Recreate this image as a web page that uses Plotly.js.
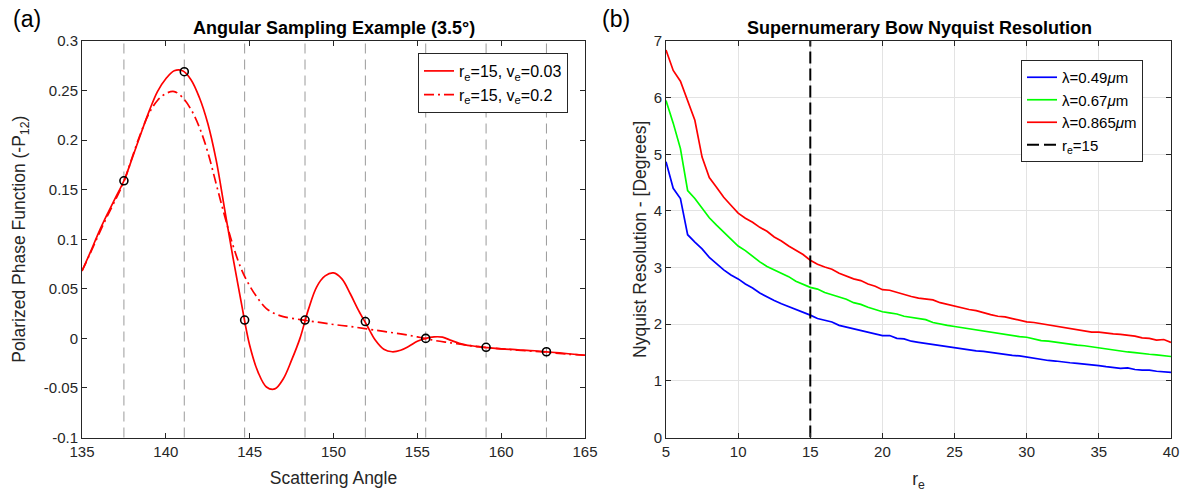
<!DOCTYPE html>
<html>
<head>
<meta charset="utf-8">
<script src="https://cdn.plot.ly/plotly-3.0.1.min.js"></script>
<style>html,body{margin:0;padding:0;background:#fff;}#chart{width:1185px;height:499px;}</style>
</head>
<body>
<div id="chart"></div>
<script>
// ---------- Panel (a): Angular sampling example ----------
const angSolid = [135,135.5,136,136.5,137,137.5,138,138.5,139,139.5,140,140.5,141,141.5,142,142.5,143,143.5,144,144.5,145,145.5,146,146.5,147,147.5,148,148.5,149,149.5,150,150.5,151,151.5,152,152.5,153,153.5,154,154.5,155,155.5,156,156.5,157,157.5,158,158.5,159,160,161,162,163,164,165];
const valSolid = [0.068,0.087,0.107,0.125,0.142,0.159,0.182,0.206,0.229,0.249,0.262,0.270,0.270,0.261,0.243,0.217,0.180,0.131,0.082,0.036,-0.007,-0.034,-0.049,-0.051,-0.041,-0.022,0.000,0.029,0.052,0.063,0.066,0.060,0.045,0.028,0.013,-0.002,-0.011,-0.0135,-0.012,-0.008,-0.003,0.000,0.0015,0.0012,-0.002,-0.005,-0.007,-0.008,-0.009,-0.0105,-0.0115,-0.0125,-0.014,-0.0155,-0.017];
const angDashDot = [135,135.5,136,136.5,137,137.5,138,138.5,139,139.5,140,140.5,141,141.5,142,142.5,143,143.5,144,144.5,145,145.5,146,146.5,147,148,149,150,151,152,153,154,155,156,157,158,159,160,161,162,163,164,165];
const valDashDot = [0.068,0.086,0.105,0.123,0.140,0.158,0.183,0.207,0.227,0.240,0.247,0.249,0.243,0.231,0.213,0.188,0.156,0.124,0.094,0.070,0.053,0.040,0.030,0.025,0.022,0.019,0.0165,0.014,0.012,0.0095,0.007,0.0045,0.0015,-0.002,-0.0045,-0.007,-0.009,-0.0105,-0.012,-0.013,-0.0145,-0.016,-0.017];
const sampleAngles = [137.5,141.1,144.7,148.3,151.9,155.5,159.1,162.7];
const sampleValues = [0.159,0.269,0.0185,0.0185,0.017,0.0,-0.009,-0.0135];
const leftYTickVals = [-0.1,-0.05,0,0.05,0.1,0.15,0.2,0.25,0.3];
const leftYTickText = ["-0.1","-0.05","0","0.05","0.1","0.15","0.2","0.25","0.3"];
const leftXTickVals = [135,140,145,150,155,160,165];

// ---------- Panel (b): Supernumerary bow Nyquist resolution ----------
const re = [5,5.5,6,6.5,7,7.5,8,8.5,9,9.5,10,10.5,11,11.5,12,12.5,13,13.5,14,14.5,15,15.5,16,16.5,17,17.5,18,18.5,19,19.5,20,20.5,21,21.5,22,22.5,23,23.5,24,24.5,25,25.5,26,26.5,27,27.5,28,28.5,29,29.5,30,30.5,31,31.5,32,32.5,33,33.5,34,34.5,35,35.5,36,36.5,37,37.5,38,38.5,39,39.5,40];
const res049 = [4.87,4.40,4.22,3.58,3.45,3.33,3.18,3.07,2.96,2.87,2.80,2.71,2.64,2.55,2.48,2.42,2.36,2.31,2.26,2.22,2.16,2.10,2.07,2.04,1.98,1.95,1.91,1.88,1.86,1.82,1.80,1.80,1.75,1.74,1.70,1.68,1.66,1.64,1.62,1.60,1.58,1.57,1.55,1.53,1.52,1.50,1.48,1.47,1.45,1.44,1.42,1.39,1.37,1.36,1.35,1.33,1.32,1.31,1.30,1.29,1.27,1.25,1.24,1.22,1.23,1.20,1.19,1.19,1.17,1.16,1.15];
const res067 = [5.95,5.55,5.10,4.36,4.22,4.05,3.88,3.75,3.63,3.50,3.38,3.30,3.20,3.10,3.02,2.96,2.90,2.84,2.76,2.70,2.65,2.62,2.56,2.52,2.48,2.44,2.38,2.35,2.30,2.26,2.22,2.20,2.18,2.14,2.12,2.09,2.08,2.03,2.00,1.98,1.96,1.94,1.92,1.90,1.87,1.85,1.83,1.82,1.80,1.78,1.77,1.74,1.71,1.70,1.68,1.66,1.64,1.63,1.62,1.60,1.58,1.57,1.55,1.52,1.51,1.50,1.48,1.47,1.46,1.44,1.43];
const res0865 = [6.84,6.48,6.29,5.93,5.60,4.95,4.59,4.42,4.24,4.10,3.96,3.87,3.80,3.71,3.64,3.54,3.47,3.38,3.31,3.23,3.13,3.06,3.01,2.97,2.90,2.85,2.80,2.77,2.71,2.67,2.61,2.60,2.56,2.53,2.49,2.46,2.45,2.43,2.38,2.35,2.31,2.29,2.26,2.24,2.20,2.17,2.14,2.13,2.10,2.07,2.04,2.03,2.01,1.98,1.96,1.95,1.93,1.91,1.88,1.86,1.86,1.84,1.83,1.82,1.81,1.79,1.76,1.75,1.72,1.73,1.68];
const reMarker = 15;
const rightYRange = [0, 7];

const FONT = "Liberation Sans, Arial, Helvetica, sans-serif";
const AX = "#262626";

const traces = [
  {x: angSolid, y: valSolid, type: "scatter", mode: "lines", line: {color: "#ff0000", width: 1.7, shape: "spline", smoothing: 1},
   name: "r<sub>e</sub>=15, v<sub>e</sub>=0.03", xaxis: "x", yaxis: "y", legend: "legend", legendgroup: "a1"},
  {x: angDashDot, y: valDashDot, type: "scatter", mode: "lines", line: {color: "#ff0000", width: 1.7, dash: "10px,4px,2px,4px", shape: "spline", smoothing: 1},
   name: "r<sub>e</sub>=15, v<sub>e</sub>=0.2", xaxis: "x", yaxis: "y", legend: "legend", legendgroup: "a2"},
  {x: sampleAngles, y: sampleValues, type: "scatter", mode: "markers", marker: {symbol: "circle-open", size: 8, color: "#000", line: {width: 1.6, color: "#000"}},
   showlegend: false, xaxis: "x", yaxis: "y"},
  {x: re, y: res049, type: "scatter", mode: "lines", line: {color: "#0000ff", width: 1.7},
   name: "λ=0.49<i>μ</i>m", xaxis: "x2", yaxis: "y2", legend: "legend2"},
  {x: re, y: res067, type: "scatter", mode: "lines", line: {color: "#00ff00", width: 1.7},
   name: "λ=0.67<i>μ</i>m", xaxis: "x2", yaxis: "y2", legend: "legend2"},
  {x: re, y: res0865, type: "scatter", mode: "lines", line: {color: "#ff0000", width: 1.7},
   name: "λ=0.865<i>μ</i>m", xaxis: "x2", yaxis: "y2", legend: "legend2"},
  {x: [reMarker, reMarker], y: rightYRange, type: "scatter", mode: "lines", line: {color: "#000", width: 2, dash: "12px,5px"},
   name: "r<sub>e</sub>=15", xaxis: "x2", yaxis: "y2", legend: "legend2"}
];

const shapes = sampleAngles.map(a => ({
  type: "line", xref: "x", yref: "y domain", x0: a, x1: a, y0: 0, y1: 1,
  line: {color: "#9a9a9a", width: 1, dash: "10px,6px"}, layer: "below"
}));

const axBase = {
  showline: true, linecolor: AX, linewidth: 1, mirror: "ticks", ticks: "inside", ticklen: 5, tickcolor: AX,
  tickfont: {family: FONT, size: 15, color: AX}, zeroline: false
};
const titleFont = {family: FONT, size: 17.5, color: AX};

const yTop = 1 - 41/499, yBot = 1 - 437.5/499;

const layout = {
  width: 1185, height: 499,
  margin: {l: 0, r: 0, t: 0, b: 0},
  paper_bgcolor: "#fff", plot_bgcolor: "#fff",
  font: {family: FONT, size: 15, color: AX},
  xaxis: Object.assign({}, axBase, {domain: [82/1185, 585/1185], range: [135, 165], tickvals: leftXTickVals, showgrid: false, anchor: "y",
    title: {text: "Scattering Angle", font: titleFont, standoff: 13}}),
  yaxis: Object.assign({}, axBase, {domain: [yBot, yTop], range: [-0.1, 0.3], tickvals: leftYTickVals, ticktext: leftYTickText, showgrid: false, anchor: "x",
    title: {text: "Polarized Phase Function (-P<sub>12</sub>)", font: titleFont, standoff: 13}}),
  xaxis2: Object.assign({}, axBase, {domain: [666/1185, 1171/1185], range: [5, 40], dtick: 5, showgrid: true, gridcolor: "#e3e3e3", gridwidth: 1, anchor: "y2",
    title: {text: "r<sub>e</sub>", font: titleFont, standoff: 14}}),
  yaxis2: Object.assign({}, axBase, {domain: [yBot, yTop], range: [0, 7], dtick: 1, showgrid: true, gridcolor: "#e3e3e3", gridwidth: 1, anchor: "x2",
    title: {text: "Nyquist Resolution - [Degrees]", font: titleFont, standoff: 2}}),
  showlegend: true,
  legend: {x: 418/1185, y: 1 - 53/499, xanchor: "left", yanchor: "top", bgcolor: "#fff", bordercolor: "#262626", borderwidth: 1,
    font: {family: FONT, size: 16, color: "#000"}, itemwidth: 30, tracegroupgap: 3, traceorder: "normal"},
  legend2: {x: 1021/1185, y: 1 - 60/499, xanchor: "left", yanchor: "top", bgcolor: "#fff", bordercolor: "#262626", borderwidth: 1,
    font: {family: FONT, size: 15, color: "#000"}, itemwidth: 30, traceorder: "normal"},
  shapes: shapes,
  annotations: [
    {text: "<b>Angular Sampling Example (3.5°)</b>", xref: "paper", yref: "paper", x: 334/1185, y: 1 - 28/499, xanchor: "center", yanchor: "middle", showarrow: false,
     font: {family: FONT, size: 18, color: "#000"}},
    {text: "<b>Supernumerary Bow Nyquist Resolution</b>", xref: "paper", yref: "paper", x: 919/1185, y: 1 - 28/499, xanchor: "center", yanchor: "middle", showarrow: false,
     font: {family: FONT, size: 18, color: "#000"}},
    {text: "(a)", xref: "paper", yref: "paper", x: 11/1185, y: 1 - 19/499, xanchor: "left", yanchor: "middle", showarrow: false,
     font: {family: FONT, size: 23, color: "#000"}},
    {text: "(b)", xref: "paper", yref: "paper", x: 600/1185, y: 1 - 19/499, xanchor: "left", yanchor: "middle", showarrow: false,
     font: {family: FONT, size: 23, color: "#000"}}
  ]
};

Plotly.newPlot("chart", traces, layout, {staticPlot: true, displayModeBar: false});
</script>
</body>
</html>
